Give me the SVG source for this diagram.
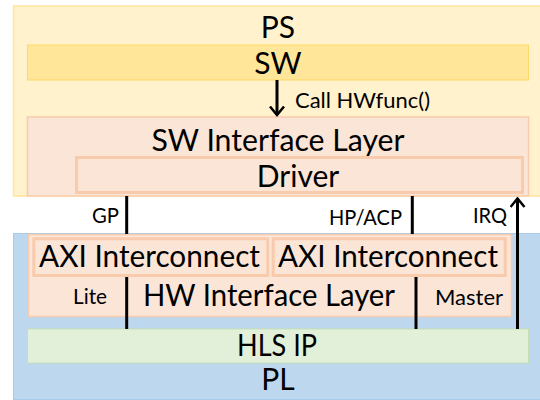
<svg xmlns="http://www.w3.org/2000/svg" width="540" height="400" viewBox="0 0 540 400">
  <style>
    text { font-family: Lato, "Open Sans", "Liberation Sans", sans-serif; fill: #000; }
    .big { font-size: 30px; }
    .small { font-size: 21px; }
    .mid { text-anchor: middle; }
    .end { text-anchor: end; }
    .ps { fill: #FFF2CC; stroke: #FFE699; stroke-width: 1.5; }
    .sw { fill: #FFE699; stroke: #FFD966; stroke-width: 1; }
    .layer { fill: #FBE5D6; stroke: #F8CBAD; stroke-width: 1.5; }
    .thick { fill: #FBE5D6; stroke: #F8CBAD; stroke-width: 3; }
    .pl { fill: #BDD7EE; stroke: #A9CBEA; stroke-width: 1; }
    .hls { fill: #E2F0D9; stroke: #C5E0B4; stroke-width: 1; }
    .wire { stroke: #000; stroke-width: 3; fill: none; }
  </style>
  <defs>
    <!-- open chevron head pointing along the line direction -->
    <marker id="head" viewBox="0 0 12 16" refX="10" refY="8" markerWidth="12" markerHeight="16" markerUnits="userSpaceOnUse" orient="auto">
      <path d="M1.5,1 L10,8 L1.5,15" fill="none" stroke="#000" stroke-width="2.5"/>
    </marker>
  </defs>

  <!-- processing system -->
  <g id="ps">
    <rect class="ps" x="13.5" y="6" width="530" height="190"/>
    <text class="big mid" x="278" y="38">PS</text>
  </g>
  <g id="sw">
    <rect class="sw" x="27.5" y="45" width="501" height="35"/>
    <text class="big mid" x="278" y="74">SW</text>
  </g>
  <g id="sw-interface">
    <rect class="layer" x="27.5" y="117" width="501" height="79"/>
    <text class="big mid" x="278" y="151" textLength="253" lengthAdjust="spacingAndGlyphs">SW Interface Layer</text>
  </g>
  <g id="driver">
    <rect class="thick" x="76.5" y="157.5" width="446" height="35"/>
    <text class="big mid" x="298" y="187">Driver</text>
  </g>

  <!-- programmable logic -->
  <g id="pl">
    <rect class="pl" x="13.5" y="233.5" width="530" height="166"/>
    <text class="big mid" x="278" y="390" font-size="29">PL</text>
  </g>
  <g id="hw-interface">
    <rect class="layer" x="28.5" y="234.5" width="483" height="82"/>
    <text class="big mid" x="269" y="306" textLength="252" lengthAdjust="spacingAndGlyphs">HW Interface Layer</text>
    <text class="small" x="73" y="304" textLength="34" lengthAdjust="spacingAndGlyphs">Lite</text>
    <text class="small" x="435" y="305" textLength="68" lengthAdjust="spacingAndGlyphs">Master</text>
  </g>
  <g id="axi-lite">
    <rect class="thick" x="33.8" y="238.8" width="234" height="36.7"/>
    <text class="big" x="39" y="267" textLength="221" lengthAdjust="spacingAndGlyphs">AXI Interconnect</text>
  </g>
  <g id="axi-master">
    <rect class="thick" x="273.2" y="238.8" width="232" height="36.7"/>
    <text class="big" x="278" y="267" textLength="220" lengthAdjust="spacingAndGlyphs">AXI Interconnect</text>
  </g>
  <g id="hls-ip">
    <rect class="hls" x="27.5" y="329" width="501" height="34"/>
    <text class="big mid" x="277" y="356" textLength="80" lengthAdjust="spacingAndGlyphs">HLS IP</text>
  </g>

  <!-- connectors -->
  <g id="connectors">
    <line class="wire" x1="277" y1="80" x2="277" y2="115" stroke-width="2.5" marker-end="url(#head)"/>
    <text class="small" x="295" y="108" textLength="135" lengthAdjust="spacingAndGlyphs">Call HWfunc()</text>

    <line class="wire" x1="126.7" y1="196" x2="126.7" y2="234"/>
    <line class="wire" x1="126.7" y1="277" x2="126.7" y2="329"/>
    <text class="small end" x="119" y="223" textLength="27" lengthAdjust="spacingAndGlyphs">GP</text>

    <line class="wire" x1="412.3" y1="196" x2="412.3" y2="234"/>
    <line class="wire" x1="416" y1="277" x2="416" y2="329"/>
    <text class="small end" x="402" y="225" textLength="73" lengthAdjust="spacingAndGlyphs">HP/ACP</text>

    <line class="wire" x1="517.5" y1="329" x2="517.5" y2="198.5" marker-end="url(#head)"/>
    <text class="small end" x="507" y="223" textLength="34" lengthAdjust="spacingAndGlyphs">IRQ</text>
  </g>
</svg>
